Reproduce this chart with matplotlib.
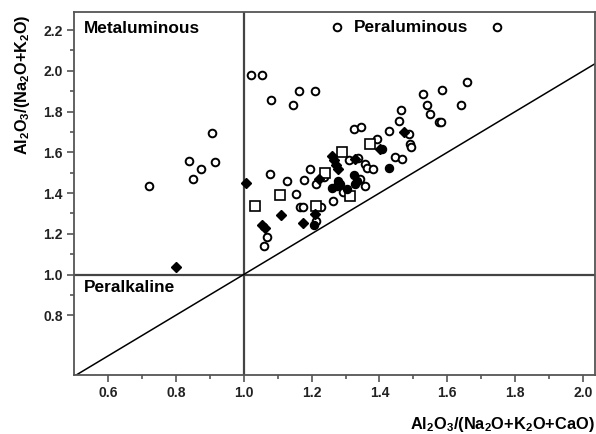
"""Shand's index plot: A/NK versus A/CNK."""

import matplotlib

matplotlib.use("Agg")
import matplotlib.pyplot as plt
import numpy as np
from matplotlib.ticker import FixedLocator

plt.rcParams["font.family"] = ["Liberation Sans", "DejaVu Sans"]
plt.rcParams["font.weight"] = "bold"
plt.rcParams["mathtext.default"] = "regular"

# open circles (A/CNK, A/NK)
circle_x = [0.72, 0.84, 0.85, 0.875, 0.908, 0.915, 1.275, 1.745,
            1.023, 1.054, 1.081, 1.162, 1.144, 1.209, 1.326, 1.345,
            1.659, 1.584, 1.529, 1.540, 1.549, 1.639, 1.575, 1.582,
            1.464, 1.457, 1.429, 1.487, 1.392, 1.490, 1.493, 1.446, 1.466,
            1.309, 1.338, 1.358, 1.363, 1.382, 1.343, 1.356, 1.294, 1.262,
            1.214, 1.178, 1.194, 1.129, 1.154, 1.079, 1.167, 1.174, 1.229,
            1.214, 1.069, 1.059, 1.236]
circle_y = [1.435, 1.555, 1.47, 1.52, 1.695, 1.55, 2.215, 2.215,
            1.978, 1.978, 1.857, 1.899, 1.831, 1.899, 1.712, 1.725,
            1.943, 1.907, 1.888, 1.831, 1.790, 1.831, 1.748, 1.748,
            1.810, 1.753, 1.704, 1.688, 1.663, 1.642, 1.626, 1.577, 1.569,
            1.561, 1.574, 1.541, 1.525, 1.517, 1.468, 1.436, 1.403, 1.362,
            1.444, 1.465, 1.520, 1.460, 1.395, 1.493, 1.330, 1.330, 1.330,
            1.265, 1.184, 1.140, 1.480]

# open squares
square_x = [1.032, 1.108, 1.240, 1.291, 1.371, 1.213, 1.314]
square_y = [1.335, 1.390, 1.498, 1.603, 1.639, 1.335, 1.387]

# filled diamonds
diamond_x = [0.80, 1.008, 1.111, 1.176, 1.054, 1.064, 1.209, 1.260,
             1.265, 1.272, 1.277, 1.222, 1.327, 1.471, 1.402]
diamond_y = [1.035, 1.447, 1.292, 1.252, 1.245, 1.228, 1.298, 1.582,
             1.561, 1.538, 1.517, 1.468, 1.566, 1.701, 1.618]

# filled circles
dot_x = [1.206, 1.260, 1.275, 1.284, 1.279, 1.324, 1.327, 1.429, 1.407,
         1.304, 1.334]
dot_y = [1.244, 1.423, 1.433, 1.444, 1.460, 1.488, 1.444, 1.525, 1.615,
         1.420, 1.460]

fig = plt.figure(figsize=(5.96, 4.34), dpi=100)
ax = fig.add_axes([0.124, 0.136, 0.875, 0.836])

ax.set_xlim(0.5, 2.036)
ax.set_ylim(0.507, 2.288)

grey = "#555555"
ax.axvline(1.0, color="#444444", lw=1.6, zorder=1)
ax.axhline(1.0, color="#444444", lw=1.6, zorder=1)
ax.plot([0.5, 2.1], [0.5, 2.1], color="black", lw=1.1, zorder=1)

ax.plot(circle_x, circle_y, "o", ms=5.5, mfc="white", mec="black", mew=1.4,
        ls="none", zorder=2)
ax.plot(square_x, square_y, "s", ms=6.5, mfc="white", mec="black", mew=1.2,
        ls="none", zorder=3)
ax.plot(diamond_x, diamond_y, "D", ms=4.9, mfc="black", mec="black",
        ls="none", zorder=4)
ax.plot(dot_x, dot_y, "o", ms=5.8, mfc="black", mec="black",
        ls="none", zorder=4)

ax.text(0.529, 2.187, "Metaluminous", fontsize=12.4, fontweight="bold")
ax.text(1.324, 2.189, "Peraluminous", fontsize=12.4, fontweight="bold")
ax.text(0.529, 0.916, "Peralkaline", fontsize=12.4, fontweight="bold")

ax.xaxis.set_major_locator(FixedLocator(np.arange(0.6, 2.01, 0.2)))
ax.xaxis.set_minor_locator(FixedLocator(np.arange(0.7, 2.0, 0.2)))
ax.yaxis.set_major_locator(FixedLocator(np.arange(0.8, 2.21, 0.2)))
ax.yaxis.set_minor_locator(FixedLocator(np.arange(0.9, 2.2, 0.2)))
ax.xaxis.set_major_formatter(plt.FuncFormatter(lambda v, p: f"{v:.1f}"))
ax.yaxis.set_major_formatter(plt.FuncFormatter(lambda v, p: f"{v:.1f}"))

ax.tick_params(which="major", direction="out", length=5, width=1.2,
               color=grey, labelsize=10, labelcolor="#222222", pad=3)
ax.tick_params(which="minor", direction="out", length=3, width=1.2,
               color=grey)
for label in ax.get_xticklabels() + ax.get_yticklabels():
    label.set_fontweight("bold")
for spine in ax.spines.values():
    spine.set_color(grey)
    spine.set_linewidth(1.3)

fig.text(0.037, 1 - 15 / 434, "Al$_2$O$_3$/(Na$_2$O+K$_2$O)", rotation=90,
         ha="center", va="top", fontsize=11.7, fontweight="bold")
fig.text(0.997, 1 - 425 / 434, "Al$_2$O$_3$/(Na$_2$O+K$_2$O+CaO)",
         ha="right", va="center", fontsize=11.8, fontweight="bold")

fig.savefig("out.png", dpi=100)
